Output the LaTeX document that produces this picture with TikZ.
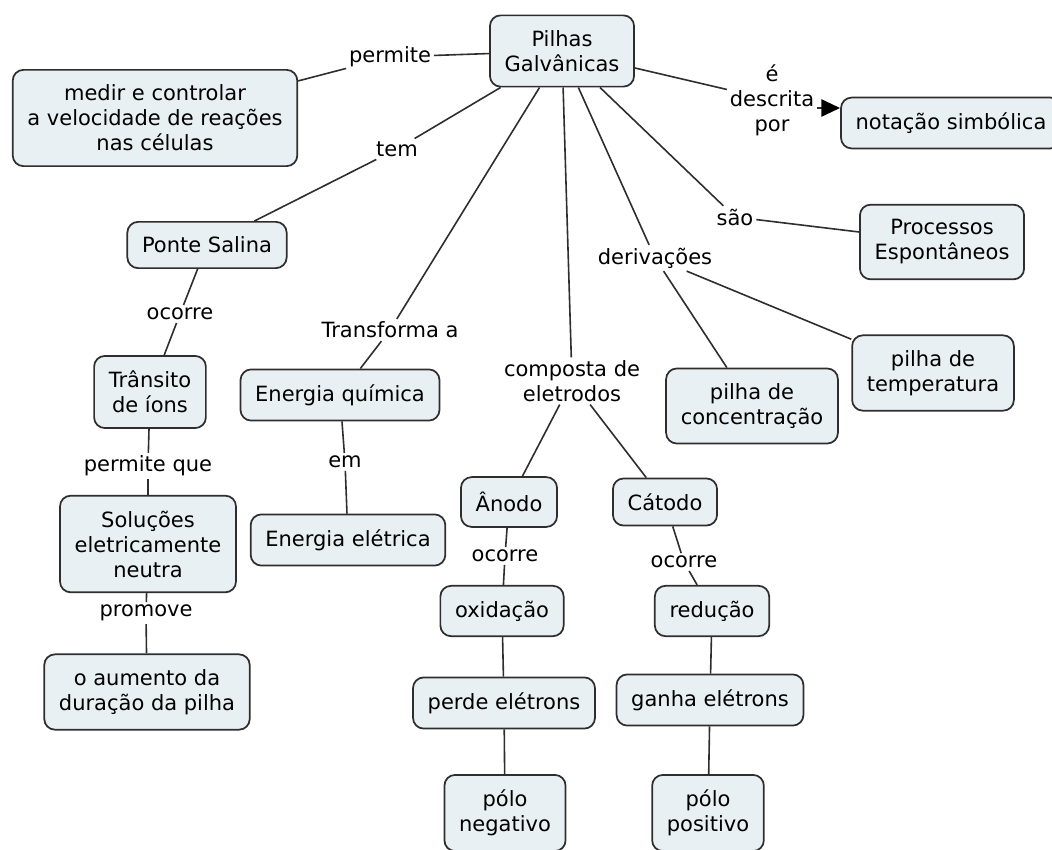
\documentclass[tikz,border=0pt]{standalone}
\usepackage{fontspec}
\setmainfont{DejaVu Sans}
\usetikzlibrary{arrows.meta}
\definecolor{boxfill}{HTML}{E9F0F3}
\definecolor{boxline}{HTML}{2E2E2E}
\tikzset{
  concept/.style={draw=boxline, fill=boxfill, rounded corners=8pt, line width=1.3pt,
    align=center, inner xsep=11pt, inner ysep=11.25pt},
  phrase/.style={align=center, inner sep=2pt},
  conn/.style={draw=boxline, line width=1.2pt}
}
\begin{document}
\begin{tikzpicture}[x=0.75pt,y=-0.75pt,font=\fontsize{15.75}{18.75}\selectfont]
\useasboundingbox (0,0) rectangle (1052,849);
% concepts
\node[concept](pilhas) at (562,51) {Pilhas\\Galvânicas};
\node[concept](medir) at (155,118) {medir e controlar\\a velocidade de reações\\nas células};
\node[concept](ponte) at (207,245) {Ponte Salina};
\node[concept](transito) at (150,392) {Trânsito\\de íons};
\node[concept](solucoes) at (148,544) {Soluções\\eletricamente\\neutra};
\node[concept](aumento) at (147,692) {o aumento da\\duração da pilha};
\node[concept](quimica) at (340,395) {Energia química};
\node[concept](eletrica) at (348,540) {Energia elétrica};
\node[concept](anodo) at (509,502) {Ânodo};
\node[concept](catodo) at (665,502) {Cátodo};
\node[concept](oxidacao) at (502,611) {oxidação};
\node[concept](perde) at (504,703) {perde elétrons};
\node[concept](negativo) at (505,813) {pólo\\negativo};
\node[concept](reducao) at (712,611) {redução};
\node[concept](ganha) at (710,700) {ganha elétrons};
\node[concept](positivo) at (708,813) {pólo\\positivo};
\node[concept](concentracao) at (752,406) {pilha de\\concentração};
\node[concept](temperatura) at (933,373) {pilha de\\temperatura};
\node[concept](processos) at (942,242) {Processos\\Espontâneos};
\node[concept](notacao) at (951,123) {notação simbólica};
% linking phrases
\node[phrase](permite) at (390,57) {permite};
\node[phrase](tem) at (397,149) {tem};
\node[phrase](ocorreA) at (180,314) {ocorre};
\node[phrase](permiteque) at (148,466) {permite que};
\node[phrase](promove) at (146,613) {promove};
\node[phrase](transforma) at (390,330) {Transforma a};
\node[phrase](em) at (345,462) {em};
\node[phrase](composta) at (572,381) {composta de\\eletrodos};
\node[phrase](ocorreB) at (505,556) {ocorre};
\node[phrase](ocorreC) at (684,562) {ocorre};
\node[phrase](derivacoes) at (655,258) {derivações};
\node[phrase](sao) at (735,217) {são};
\node[phrase](descrita) at (772,100) {é\\descrita\\por};
\coordinate (seta) at (840,108);
% connections
\draw[conn] (pilhas) -- (permite) -- (medir);
\draw[conn] (pilhas) -- (tem) -- (ponte);
\draw[conn] (ponte) -- (ocorreA) -- (transito);
\draw[conn] (transito) -- (permiteque) -- (solucoes);
\draw[conn] (solucoes) -- (promove) -- (aumento);
\draw[conn] (pilhas) -- (transforma) -- (quimica);
\draw[conn] (quimica) -- (em) -- (eletrica);
\draw[conn] (pilhas) -- (composta);
\draw[conn] (composta) -- (anodo);
\draw[conn] (composta) -- (catodo);
\draw[conn] (anodo) -- (ocorreB) -- (oxidacao);
\draw[conn] (oxidacao) -- (perde);
\draw[conn] (perde) -- (negativo);
\draw[conn] (catodo) -- (ocorreC) -- (reducao);
\draw[conn] (reducao) -- (ganha);
\draw[conn] (ganha) -- (positivo);
\draw[conn] (pilhas) -- (derivacoes);
\draw[conn] (derivacoes) -- (concentracao);
\draw[conn] (derivacoes) -- (temperatura);
\draw[conn] (pilhas) -- (sao) -- (processos);
\draw[conn] (pilhas) -- (descrita);
\draw[conn,-{Triangle[length=14pt,width=13pt,color=black,fill=black]}] (descrita.east|-seta) -- (seta);
\end{tikzpicture}
\end{document}
